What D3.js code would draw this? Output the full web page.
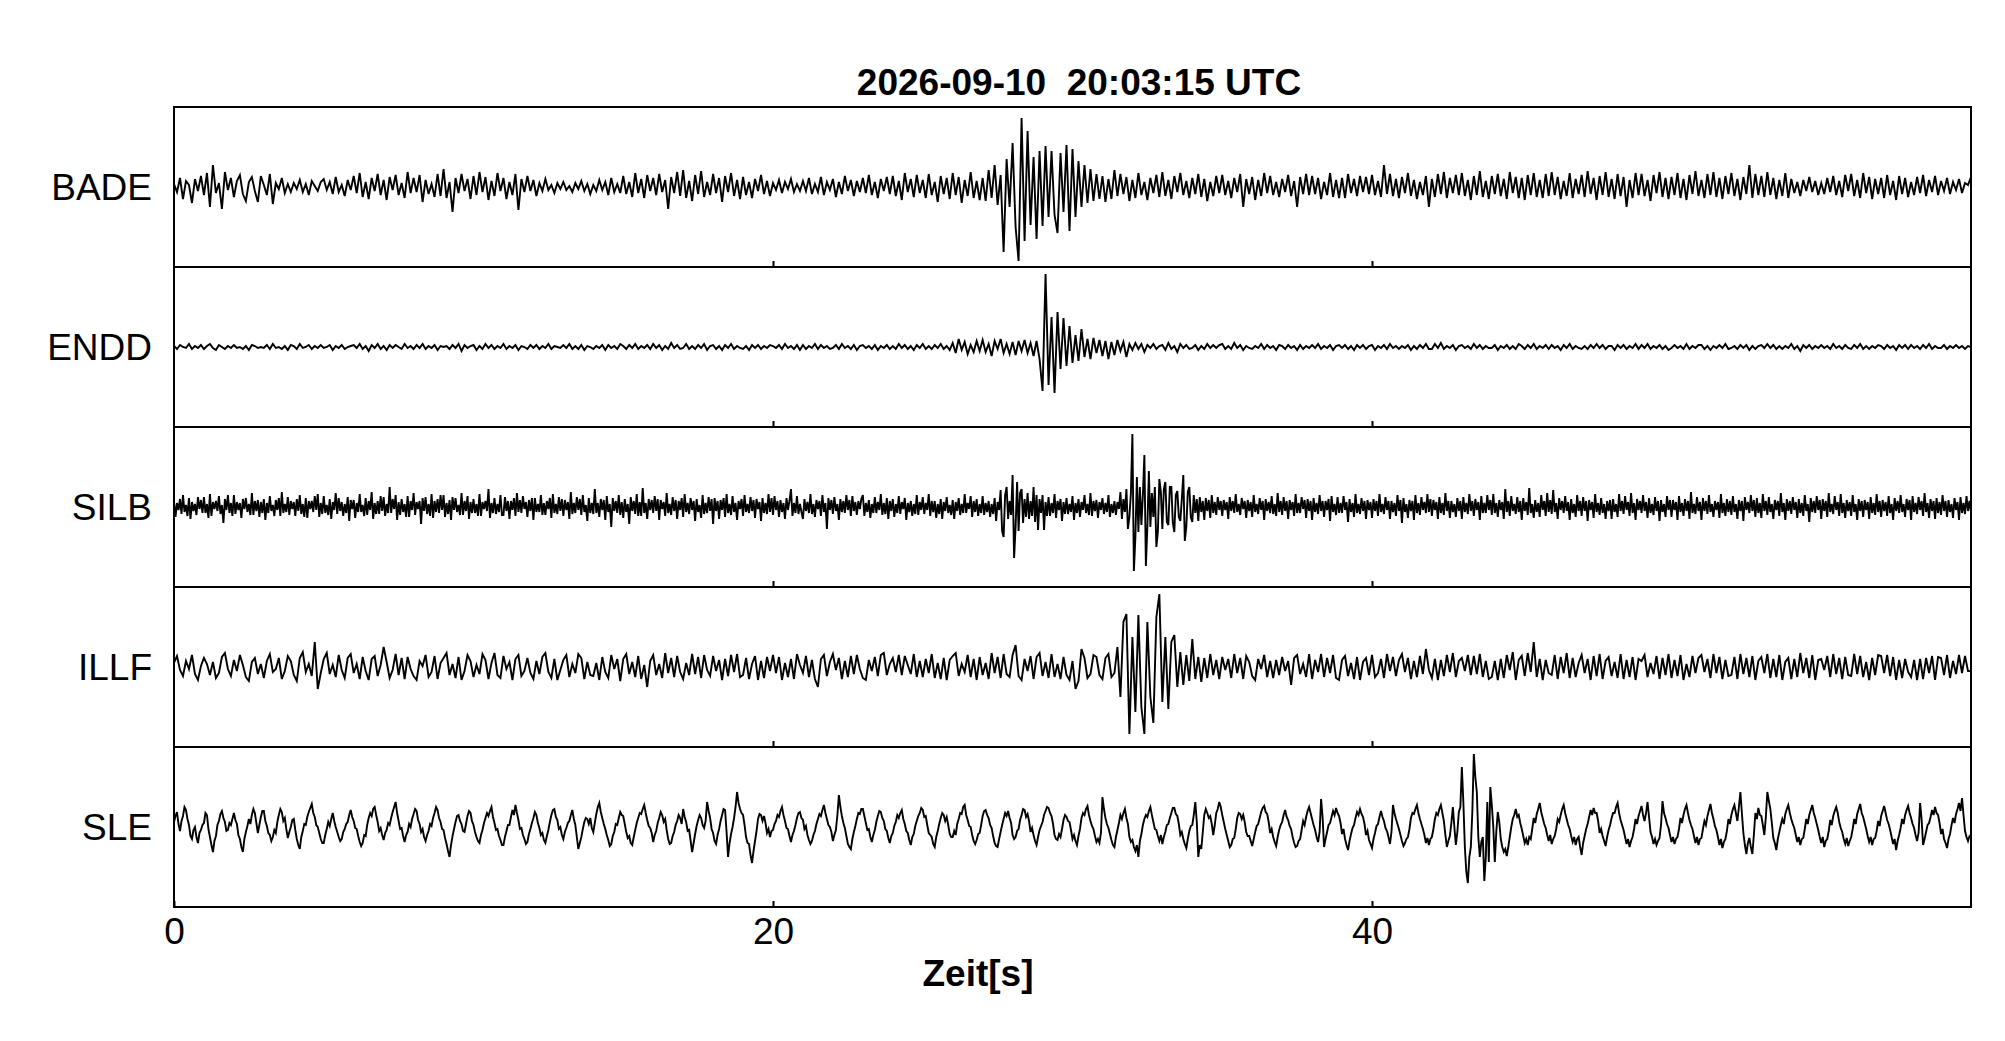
<!DOCTYPE html>
<html><head><meta charset="utf-8">
<script src="https://cdn.jsdelivr.net/npm/d3@7"></script>
<style>
body{margin:0;background:#fff}
svg{display:block}
text{font-family:"Liberation Sans",Arial,Helvetica,sans-serif;fill:#000}
</style></head>
<body><svg id="chart" width="2005" height="1041"></svg>
<script>
// ---------- data ----------
const title = "2026-09-10  20:03:15 UTC";
const xLabel = "Zeit[s]";
const stations = ["BADE","ENDD","SILB","ILLF","SLE"];
const timeDomain = [0, 60];
const xTickValues = [0, 20, 40];
const ampDomain = [-80, 80];          // normalised amplitude range of every trace

// one row = one second of samples (evenly spaced inside the second); last row = t 60 s
const BADE = [
[3,-5,9,-12,6,2,-16,8,-4,11],[-8,14,-20,22,-6,4,-22,15,-3,9],[-10,6,12,-7,-14,5,10,-4,-15,11],[2,-8,13,-17,4,-2,9,-6,3,-5],
[4,-2,7,-5,3,-8,6,1,-4,5],[8,-3,5,-7,10,-5,2,-9,7,-3],[11,-6,14,-10,5,-12,9,-4,13,-8],[7,-13,10,-3,12,-8,4,-11,15,-6],
[9,-5,12,-15,7,-7,3,-10,13,-9],[18,-11,5,-25,9,-6,13,-4,8,-12],[11,-8,15,-5,10,-13,6,-9,14,-4],[9,-12,5,-8,13,-23,8,-5,11,-4],
[7,-9,4,-4,8,-3,2,-6,4,-2],[5,-3,1,-5,4,-2,6,-4,3,-7],[2,-4,7,-3,5,-8,9,-5,3,-6],[11,-7,5,-10,14,-6,8,-11,12,-4],
[9,-8,13,-5,7,-22,10,-6,15,-9],[17,-11,6,-14,12,-7,16,-10,5,-8],[13,-6,9,-15,11,-5,14,-9,7,-12],[10,-8,5,-11,8,-4,12,-7,6,-9],
[4,-3,7,-6,5,-2,8,-5,3,-4],[6,-4,9,-7,3,-5,10,-8,5,-3],[8,-10,5,-7,11,-4,7,-9,6,-5],[9,-6,12,-8,5,-11,8,-4,10,-7],
[11,-9,6,-13,14,-5,8,-10,12,-6],[7,-11,13,-8,5,-15,11,-7,9,-12],[14,-8,10,-16,7,-9,15,-11,6,-13],[9,-14,17,-11,22,-18,12,-65,28,-20],
[44,-40,-74,69,-54,56,-38,30,-52,36],[-39,41,-30,36,-28,-46,34,-25,42,-44],[38,-30,26,-20,22,-16,18,-14,13,-12],[11,-15,8,-12,17,-9,13,-7,10,-14],
[7,-11,14,-8,5,-13,9,-6,12,-10],[15,-9,7,-12,11,-5,14,-8,6,-11],[9,-7,13,-10,8,-14,5,-9,11,-6],[12,-8,6,-11,9,-5,13,-20,8,-7],
[10,-13,7,-9,14,-6,11,-8,5,-10],[8,-5,12,-9,6,-20,10,-7,13,-8],[11,-7,9,-12,5,-8,14,-10,7,-11],[9,-11,13,-6,8,-9,11,-5,10,-7],
[12,-8,6,-10,22,-7,13,-9,8,-11],[10,-6,14,-9,7,-12,5,-8,11,-20],[8,-10,13,-7,15,-11,9,-6,12,-8],[14,-9,7,-13,11,-8,16,-10,6,-12],
[11,-7,13,-9,8,-12,15,-6,10,-11],[9,-13,12,-8,14,-10,7,-11,13,-9],[15,-8,10,-12,6,-9,14,-11,8,-7],[12,-10,16,-7,9,-13,11,-8,15,-10],
[8,-12,13,-9,10,-20,7,-11,14,-8],[13,-9,7,-14,12,-6,15,-10,9,-12],[10,-8,14,-11,8,-13,12,-7,16,-9],[7,-11,13,-8,15,-10,9,-12,11,-7],
[14,-9,8,-13,10,-7,22,-11,13,-8],[11,-10,15,-8,9,-12,7,-9,14,-11],[8,-6,5,-9,7,-4,10,-5,6,-8],[4,-7,9,-5,11,-8,6,-10,12,-4],
[13,-9,7,-11,14,-6,10,-12,8,-7],[9,-11,12,-8,6,-13,11,-7,9,-10],[5,-8,10,-6,12,-9,7,-5,11,-8],[6,-4,9,-7,5,-3,8,-6,4,2],
[10]];

const ENDD = [
[1,-2,2,0,-1,3,-2,1,-1,2],[-2,1,3,-1,-3,2,0,-2,1,-1],[2,-1,0,-2,1,-3,2,1,-1,0],[-1,2,-2,3,-1,0,-2,1,-3,2],
[1,-2,3,-1,0,2,-2,1,-1,2],[-1,0,2,-3,1,-1,2,-2,0,1],[2,-1,3,-2,1,-4,2,-1,3,-2],[1,-3,2,-1,2,0,-2,3,-1,1],
[-2,2,-1,3,-2,1,-1,2,-3,1],[0,1,-2,2,-1,3,-4,2,-1,1],[2,-3,1,-2,3,-1,2,-2,1,-1],[3,-2,1,-1,2,-3,1,0,-2,2],
[-1,2,-2,1,-1,3,-2,1,0,-1],[2,-1,3,-2,1,-2,2,-3,1,0],[-2,1,-1,2,-3,2,-1,1,-2,3],[1,-2,2,-1,3,-2,1,-1,2,-2],
[3,-1,2,-3,1,-2,4,-1,2,-2],[-1,3,-2,1,-2,2,-1,3,-3,1],[2,-2,1,-3,2,-1,3,-2,1,-1],[-2,1,-3,2,-1,2,-2,1,-1,2],
[1,-1,2,-2,3,-1,1,-2,2,-3],[2,-2,1,-1,3,-2,2,-1,1,-2],[-1,2,-2,3,-1,1,-2,2,-3,1],[2,-1,1,-2,2,-3,1,-1,2,-2],
[1,-2,3,-1,2,-2,1,-3,2,-1],[3,-2,1,-2,2,-1,3,-2,1,-3],[4,-6,8,-3,5,-7,2,-5,6,-4],[7,-5,3,-9,6,-2,8,-6,3,-7],
[5,-8,6,-4,7,-6,4,-9,6,-12],[-44,73,-38,30,-46,35,-22,29,-19,21],[-16,12,-14,18,-10,8,-12,9,-6,7],[-9,6,-12,5,-8,7,-4,5,-10,3],
[-3,4,-2,3,-5,2,-1,3,-2,1],[2,-3,4,-2,1,-5,3,-1,2,-2],[-1,2,-3,1,-2,3,-1,2,-1,2],[3,-2,1,-2,4,-1,2,-3,1,-1],
[-2,1,-1,3,-2,2,-1,1,-3,2],[1,-2,2,-1,1,-3,2,-2,1,-1],[2,-1,3,-2,1,-1,2,-3,1,2],[-1,2,-2,1,-3,2,-1,2,-2,1],
[2,-3,1,-1,2,-2,3,-1,1,-2],[1,-1,2,-3,1,-2,2,-1,3,-2],[-2,3,-1,4,-2,1,-1,2,-3,1],[2,-1,1,-2,3,-1,2,-2,1,-1],
[-1,2,-3,1,-1,2,-2,1,-2,3],[1,-2,2,-1,3,-2,1,-1,2,-2],[2,-1,1,-3,2,-1,3,-2,1,-1],[-2,1,-2,2,-1,3,-1,2,-2,1],
[1,-3,2,-1,2,-2,1,-1,3,-2],[2,-1,3,-2,1,-1,2,-2,1,-3],[-1,2,-1,1,-2,3,-2,1,-1,2],[2,-2,1,-3,1,-1,2,-1,3,-2],
[-1,1,-2,2,-1,2,-3,1,-2,1],[2,-1,3,-1,2,-2,1,-2,1,-1],[3,-2,1,-4,2,-1,2,-2,1,-1],[2,-1,1,-2,3,-1,1,-2,2,-1],
[-2,2,-1,3,-2,1,-2,1,-1,2],[1,-2,2,-1,1,-3,2,-1,2,-2],[2,-1,1,-2,2,-1,3,-2,1,-1],[-1,2,-2,1,-1,2,-1,1,-2,1],
[0]];

const SILB = [
[6,-10,4,-3,8,-7,12,-5,2,-9,9,-12,5,-4,3,-8,10,-2,7,-6],[10,-6,3,-11,13,-9,5,-2,6,-4,11,-7,2,-16,8,-3,12,-6,4,-9],
[12,-7,5,-3,4,-11,8,-2,9,-5,3,-8,14,-8,6,-4,7,-10,5,-6],[8,-13,4,-6,11,-4,2,-9,7,-3,9,-9,15,-6,3,-5,10,-8,6,-2],
[5,-9,8,-4,12,-7,3,-10,9,-11,6,-2,6,-5,11,-3,13,-10,4,-7],[11,-6,2,-8,8,-12,5,-3,14,-7,9,-4,5,-9,3,-6,10,-14,7,-2],
[7,-11,4,-5,13,-5,2,-9,9,-8,6,-3,15,-12,4,-7,6,-7,11,-4],[10,-9,3,-6,20,-6,8,-2,12,-13,5,-8,8,-5,3,-10,11,-10,6,-3],
[14,-8,5,-2,6,-17,9,-4,10,-7,3,-9,13,-11,6,-5,8,-6,12,-3],[12,-10,4,-7,7,-13,10,-3,9,-5,2,-8,14,-8,6,-4,11,-12,5,-6],
[8,-6,3,-9,13,-9,5,-2,6,-4,18,-11,4,-6,9,-7,3,-5,12,-8],[-8,10,-4,6,-12,6,-3,9,-9,14,-5,7,-6,11,-2,5,-10,7,-4,9],
[-13,9,-5,3,-5,12,-8,4,-8,6,-2,9,-11,13,-6,3,-7,10,-4,8],[-9,7,-3,5,-12,15,-7,4,-6,10,-3,8,-8,12,-5,2,-14,9,-6,4],
[-7,18,-6,4,-10,8,-3,7,-13,11,-5,3,-20,9,-4,6,-6,12,-8,5],[-11,8,-5,3,-17,10,-4,6,-7,13,-9,5,-9,19,-6,4,-12,8,-3,7],
[-6,11,-4,8,-13,7,-2,5,-9,14,-6,3,-8,10,-4,7,-12,6,-3,9],[-10,13,-5,4,-7,9,-3,6,-14,8,-5,2,-11,12,-7,4,-6,10,-4,8],
[-17,9,-4,6,-12,7,-3,9,-10,13,-6,3,-8,11,-5,4,-13,6,-2,8],[-9,12,-5,3,-6,10,-4,7,-11,8,-2,5,-14,9,-6,4,-7,13,-5,9],
[-8,11,-3,6,-10,7,-5,4,-12,9,-3,6,18,-9,4,-6,11,-7,3,-5],[-12,8,-4,5,-6,13,-7,3,-10,7,-2,6,-9,12,-5,4,-22,9,-3,7],
[-7,10,-4,3,-13,8,-5,6,-6,12,-3,7,-9,11,-4,5,-8,6,-2,8],[12,-9,4,-5,7,-11,3,-6,10,-6,5,-3,13,-8,4,-7,9,-12,6,-4],
[8,-10,3,-6,11,-7,5,-2,9,-13,4,-5,6,-9,3,-7,12,-8,5,-3],[10,-7,4,-3,13,-9,6,-5,6,-11,3,-7,8,-12,5,-4,10,-6,2,-8],
[7,-12,5,-4,9,-8,3,-6,13,-6,4,-2,11,-10,6,-5,8,-9,3,-6],[11,-8,4,-5,6,-10,3,-7,9,-14,5,-3,17,-24,-30,12,20,-12,6,-8],
[32,-51,-20,25,-24,14,18,-16,8,-10,14,-12,6,-9,20,-15,12,-23,8,-6],[12,-23,5,-9,10,-9,4,-6,13,-11,6,-3,8,-14,5,-7,9,-7,3,-5],
[11,-13,4,-6,8,-10,5,-3,12,-6,3,-8,14,-9,6,-4,7,-11,5,-3],[9,-7,4,-5,12,-10,3,-6,6,-8,5,-2,15,-12,8,-5,18,-22,-10,14],
[73,-64,-30,30,-25,20,-18,12,52,-59,-20,36,-20,14,-10,20,-40,-25,28,15],[-22,18,25,-15,-18,20,20,-16,-25,12,16,-10,-14,8,32,-34,-20,15,20,-10],
[-15,12,-6,8,-14,10,-5,6,-13,9,-4,7,-11,12,-6,5,-8,10,-3,6],[-9,7,-3,5,-12,10,-4,6,-6,13,-5,3,-8,9,-2,6,-11,7,-4,5],
[-10,12,-5,3,-7,9,-3,6,-13,8,-4,5,-6,11,-7,3,-9,14,-5,6],[-8,10,-4,6,-12,7,-3,5,-9,13,-6,4,-6,10,-2,7,-11,8,-4,6],
[-13,9,-5,4,-7,12,-4,6,-10,6,-3,8,-14,11,-5,3,-8,10,-6,4],[-6,11,-3,5,-15,8,-5,4,-10,13,-6,3,-7,9,-4,6,-12,7,-3,5],
[-11,8,-4,6,-9,13,-5,3,-7,10,-3,6,-12,6,-5,4,-9,12,-4,7],[-16,9,-5,3,-11,7,-4,6,-13,12,-6,4,-8,10,-3,5,-6,13,-5,8],
[-9,7,-3,5,-12,10,-6,4,-8,14,-4,6,-11,6,-5,3,-10,9,-4,6],[-12,10,-5,4,-7,13,-4,6,-9,8,-3,5,-13,11,-6,4,-6,12,-3,7],
[-8,13,-6,4,-10,7,-3,5,-12,18,-5,6,-9,11,-4,3,-7,10,-5,6],[-13,9,-4,5,-8,19,-6,3,-11,7,-5,4,-10,12,-3,6,-9,14,-5,7],
[-7,17,-5,4,-12,9,-3,6,-6,11,-4,5,-13,8,-6,3,-10,12,-4,6],[-9,10,-4,6,-14,7,-3,5,-11,13,-5,4,-8,9,-6,3,-12,6,-4,7],
[-12,8,-5,3,-10,13,-4,6,-7,11,-3,5,-9,14,-6,4,-13,8,-3,6],[-6,12,-4,5,-11,9,-6,3,-8,10,-4,6,-14,7,-5,3,-10,11,-3,7],
[-10,7,-3,5,-13,11,-5,4,-9,8,-4,6,-12,15,-6,3,-7,10,-4,5],[-13,9,-4,6,-7,12,-5,3,-10,6,-3,5,-11,13,-6,4,-9,8,-5,6],
[-8,11,-5,3,-12,7,-4,6,-14,10,-3,5,-6,12,-4,7,-10,9,-6,4],[-11,13,-4,6,-8,10,-5,3,-12,7,-3,6,-9,14,-5,4,-13,8,-4,6],
[-7,10,-3,5,-11,8,-6,4,-9,12,-4,3,-15,9,-5,6,-6,11,-3,7],[-12,8,-4,6,-10,14,-5,3,-7,11,-3,5,-9,13,-6,4,-11,7,-4,5],
[-9,12,-5,3,-13,8,-4,6,-10,7,-3,5,-12,10,-6,4,-8,13,-5,6],[-10,7,-4,5,-9,11,-6,3,-13,9,-4,6,-6,12,-5,3,-10,8,-3,7],
[-13,11,-5,4,-7,10,-3,6,-9,14,-5,4,-11,8,-4,6,-12,9,-6,5],[-8,12,-4,6,-10,7,-5,3,-11,9,-3,5,-13,10,-6,4,-7,11,-4,6],
[-5]];

const ILLF = [
[4,11,-3,-9,6,-2,12,-7,-13,1],[9,3,-8,5,-11,-6,10,14,-2,-9],[7,-4,12,2,-10,-14,5,9,-7,3],[-11,6,13,-5,-2,9,-12,-4,11,6],
[-8,-14,9,15,-5,3,-9,25,-22,-6],[8,14,-7,2,-10,12,-3,-11,9,13],[-6,3,-12,10,-4,-13,8,11,-9,2],[20,5,-11,-3,13,-8,9,-12,10,-2],
[-9,-13,6,1,12,-10,-5,11,-12,4],[9,14,-8,3,-11,10,-13,-4,12,6],[-10,2,-7,13,7,-12,4,14,-8,-11],[11,-2,5,-13,8,12,-9,-4,9,-6],
[-12,6,-7,10,14,-5,-11,8,-13,-3],[7,12,-10,3,-6,13,9,-12,5,-8],[-9,4,-13,10,-5,-11,12,-2,8,-14],[8,13,-7,5,-10,11,-12,2,-20,6],
[12,-8,3,-11,14,-6,9,-10,11,-5],[-12,4,-8,13,-7,10,-11,12,-3,-9],[11,-4,7,-13,8,-9,12,-5,13,-10],[-8,9,-12,3,11,-13,6,-11,10,-4],
[12,-6,10,-13,4,-10,8,-12,13,2],[-6,11,-10,7,-12,-20,8,12,-9,5],[13,-3,9,-12,6,-10,11,-7,12,-2],[-11,-13,7,-4,10,-9,12,14,-8,3],
[9,-5,12,-8,11,2,-7,13,-10,6],[-10,8,-6,13,-11,4,-12,9,-13,7],[11,14,-9,3,-5,12,-10,8,-13,10],[-8,4,-12,14,-6,10,-11,13,-7,-10],
[12,22,-9,-13,8,-4,11,-12,10,14],[-9,5,-11,13,-10,3,-12,10,-8,-13],[6,-22,-14,18,9,-11,-7,12,10,-8],[-12,9,13,-10,-6,20,-30,45,53,-67],
[30,-45,52,-40,-67,45,-30,-56,50,73],[-35,30,-42,25,32,-20,15,-18,12,-14],[28,-12,10,-15,9,-11,13,-8,7,-12],[10,-3,8,-11,13,-6,9,-12,11,5],
[-9,-13,8,-2,12,-10,6,-11,7,-8],[10,-4,6,-18,9,12,-7,3,-10,13],[-12,7,-5,13,-10,9,-6,12,-11,-13],[7,11,-9,4,-12,10,-13,5,9,-8],
[12,-10,-6,8,-11,13,-4,10,-9,7],[13,-5,9,-12,6,-10,11,-7,18,-3],[-11,8,-13,7,-9,12,-5,14,-10,6],[9,-4,12,-8,11,-7,13,-10,6,-12],
[-10,6,-13,8,-11,12,-3,15,-13,7],[11,-9,14,-5,25,-10,8,-13,7,-6],[-8,12,-12,10,-6,14,-11,9,-10,4],[12,-6,8,-13,11,-9,13,-12,6,10],
[-9,5,-11,13,-12,7,-10,10,-13,8],[6,12,-10,4,-7,11,-12,9,-8,13],[-11,7,-9,12,-13,3,-10,11,-6,9],[12,-5,8,-11,13,-6,10,-12,7,-9],
[-8,10,-12,13,-7,9,-10,11,-13,6],[10,-6,13,-11,8,-10,12,-13,5,9],[-12,8,-10,14,-6,9,-11,12,-13,7],[8,-3,11,-10,13,-7,9,-12,10,-8],
[-9,13,-7,11,-10,5,-13,9,-8,12],[11,-6,12,-9,10,-13,7,-11,8,-5],[-10,7,-13,8,-12,9,-6,11,-13,10],[9,-8,12,-11,6,-7,12,-6,11,-4],
[-4]];

const SLE = [
[5,11,15,3,-4,6,11,20,17,8,2,-9,-12,-3,0,-10,-16,-6,-3,2],[4,14,12,-2,-10,-18,-25,-14,-9,2,6,13,16,9,5,-4,-3,4,2,8],
[14,7,3,-8,-12,-20,-25,-12,-5,1,8,3,12,18,14,4,-6,2,10,16],[16,6,1,-6,-8,-14,-10,-3,-6,5,12,18,15,6,9,-2,-11,-5,0,7],
[8,-3,-12,-18,-22,-10,-4,3,2,10,15,19,23,14,10,2,0,-6,-12,-16],[-16,-8,-2,5,1,8,14,6,0,-5,-10,-14,-12,-5,-2,3,5,12,17,10],
[6,-1,-2,-9,-15,-19,-16,-8,-9,2,9,14,11,18,20,12,5,-4,-1,-8],[-13,-6,-3,4,2,9,15,20,25,14,6,-2,-1,-9,-15,-8,-5,3,0,8],
[13,18,16,7,3,-5,-2,-10,-14,-8,-4,3,1,9,14,20,17,9,5,-2],[-3,-11,-17,-24,-30,-18,-9,-2,5,11,12,6,3,-4,-5,3,11,16,14,6],
[2,-5,-10,-14,-16,-8,-3,4,9,14,11,16,20,10,4,-3,-2,-9,-13,-18],[-18,-10,-4,2,2,10,17,12,22,14,7,-2,-1,-8,-12,-17,-15,-7,-2,4],
[9,15,12,4,-1,-8,-6,-13,-16,-9,-3,5,12,17,18,10,7,-2,0,-8],[-12,-5,-1,4,6,12,17,8,2,-10,-22,-16,-10,-2,5,9,8,3,9,-1],
[-5,4,13,20,24,15,9,3,-2,-8,-13,-19,-17,-9,-5,3,2,9,15,12],[11,3,-5,-11,-9,-16,-18,-10,-3,4,9,14,13,18,22,14,7,1,-1,-6],
[-15,-8,-4,4,9,15,12,5,8,-3,-12,-17,-16,-9,-5,2,6,12,9,3],[18,10,5,-4,-3,-14,-25,-16,-7,1,7,12,9,2,-1,6,25,16,9,-2],
[-6,-14,-17,-8,-2,6,12,18,17,-5,-30,-16,-7,0,9,20,35,24,18,14],[12,2,-10,-16,-17,-28,-36,-24,-14,-4,8,13,12,6,11,4,-6,-2,-10,-4],
[-3,3,6,12,10,16,20,12,6,-1,-2,-9,-15,-8,-4,2,9,14,15,9],[7,-2,1,-8,-13,-17,-14,-8,-4,3,8,13,11,17,22,14,8,2,0,-5],
[-14,-8,-3,12,32,20,11,4,-1,-9,-17,-20,-22,-12,-5,1,8,14,13,18],[18,11,4,-3,-2,-10,-15,-8,-3,5,11,16,15,9,6,-2,-4,-11,-16,-9],
[-6,1,5,12,9,14,17,8,3,-4,-6,-13,-18,-10,-7,1,6,11,14,19],[17,10,11,2,-6,-8,-10,-17,-20,-10,-4,3,9,14,12,6,10,2,-7,-10],
[-10,-4,-8,3,8,14,13,20,22,12,7,1,0,-8,-14,-17,-13,-7,-6,2],[11,16,17,12,9,2,-1,-9,-16,-19,-20,-12,-5,2,8,14,11,16,9,4],
[-8,-12,-10,-4,-2,7,12,18,17,10,13,6,-5,-1,-8,-14,-18,-10,-3,1],[5,12,16,20,19,14,11,3,-8,-12,-13,-7,-10,-2,7,12,10,6,5,-3],
[-12,-8,-14,-18,-9,-2,9,14,12,18,21,12,6,1,-2,-9,-15,-12,-16,-6],[30,18,9,3,-1,-7,-13,-18,-20,-10,-3,4,12,8,14,18,9,3,-10,-15],
[-13,-20,-24,-18,-30,-14,-7,2,8,12,10,16,20,12,5,-2,-3,-9,-14,-8],[-17,-10,-5,2,3,9,14,19,19,13,11,3,-8,-5,-12,-17,-21,-12,-4,1],
[2,12,25,5,-30,-18,-22,-5,12,18,14,9,11,3,-8,2,14,18,25,20],[12,5,-2,-8,-14,-20,-18,-12,-11,-2,9,14,13,8,12,5,-5,-9,-9,-14],
[-19,-12,-5,1,3,9,15,19,21,15,13,5,-6,-2,-10,-15,-19,-10,-3,2],[5,12,17,10,7,1,-2,-10,-16,-20,-19,-14,-12,-3,6,2,10,16,20,14],
[8,2,-3,-10,-15,-5,28,10,-20,-12,-5,2,4,10,16,12,19,14,11,4],[-7,-2,-12,-18,-23,-14,-7,-1,2,9,15,12,18,13,10,3,-8,-4,-13,-17],
[-21,-12,-6,1,3,10,16,10,6,-1,-4,-10,-17,-5,22,14,8,3,-2,-8],[-14,-19,-16,-12,-10,-2,9,14,13,18,22,14,8,3,-2,-8,-16,-11,-18,-12],
[-10,-2,8,14,12,18,22,14,6,-8,-20,-14,-9,4,20,0,-18,-5,15,20],[60,25,-20,-45,-56,-30,-20,15,73,50,35,-10,-30,-15,-10,-54,-30,25,-35,40],
[22,0,-35,-5,15,5,-12,-20,-25,-22,-29,-20,-10,0,8,12,18,10,12,4],[-2,-9,-16,-12,-18,-10,-12,-2,9,4,13,18,24,15,9,3,-1,-8,-14,-8],
[-17,-12,-9,-2,8,5,12,18,22,14,8,2,-2,-9,-15,-10,-18,-12,-10,-20],[-28,-16,-9,-2,3,10,17,12,19,14,14,6,-6,-2,-9,-14,-19,-10,-3,2],
[9,14,14,20,24,14,7,2,-3,-10,-17,-12,-20,-14,-10,-2,8,3,11,16],[21,12,6,14,25,10,-5,-10,-17,-12,-18,-14,-11,2,26,14,9,3,-1,-8],
[-15,-10,-17,-12,-10,-2,9,4,12,18,22,14,7,2,-2,-9,-16,-10,-18,-12],[-11,-2,6,2,11,17,23,14,8,1,-3,-10,-18,-12,-21,-15,-12,-4,8,3],
[12,18,22,14,6,20,35,14,-6,-18,-27,-16,-11,-20,-27,-8,14,8,19,12],[11,2,-8,10,35,26,18,4,-11,-16,-23,-12,-5,2,8,3,13,18,22,14],
[8,3,-1,-8,-15,-10,-18,-12,-11,-2,8,3,12,17,22,14,9,3,-3,-10],[-16,-10,-20,-14,-12,-4,7,2,11,16,20,14,5,-1,-5,-12,-17,-11,-19,-14],
[-10,-2,8,3,13,18,23,14,10,4,-2,-9,-15,-10,-18,-12,-11,-4,6,1],[11,16,21,14,7,3,-3,-10,-17,-12,-23,-14,-8,-1,8,3,12,17,21,14],
[9,3,-1,-8,-14,-6,24,8,-18,-12,-5,2,4,10,17,12,20,14,12,4],[-7,-2,-12,-16,-21,-12,-7,2,9,4,13,18,24,16,29,12,-4,-10,-14,-9],
[-8]];

const traceRows = { BADE, ENDD, SILB, ILLF, SLE };
// each sample gets its time from its second (row) and its place inside that row
const traces = {};
for (const s of stations) {
  traces[s] = traceRows[s].flatMap((row, r) => row.map((v, j) => ({ t: r + j / row.length, v })));
}

// ---------- layout ----------
const W = 2005, H = 1041;
const margin = { top: 107, right: 34, bottom: 134, left: 174 };
const FONT = '"Liberation Sans",Arial,Helvetica,sans-serif';
const svg = d3.select("#chart");

const x = d3.scaleLinear().domain(timeDomain).range([margin.left, W - margin.right]);
const band = d3.scaleBand().domain(stations).range([margin.top, H - margin.bottom]).paddingInner(0).paddingOuter(0);
const ph = band.bandwidth();

const defs = svg.append("defs");

stations.forEach((s, k) => {
  const top = band(s);
  const y = d3.scaleLinear().domain(ampDomain).range([top + ph, top]);
  const g = svg.append("g").attr("class", "panel");

  defs.append("clipPath").attr("id", "clip" + k)
    .append("rect").attr("x", x(timeDomain[0])).attr("y", top)
    .attr("width", x(timeDomain[1]) - x(timeDomain[0])).attr("height", ph);

  const line = d3.line().x(d => x(d.t)).y(d => y(d.v));

  g.append("path")
    .datum(traces[s])
    .attr("clip-path", `url(#clip${k})`)
    .attr("fill", "none")
    .attr("stroke", "#000")
    .attr("stroke-width", 1.9)
    .attr("stroke-linejoin", "miter")
    .attr("d", line);

  // x ticks (inward, at bottom of every panel)
  const isLast = k === stations.length - 1;
  const axis = d3.axisBottom(x)
    .tickValues(isLast ? xTickValues : xTickValues.filter(v => v !== 0))
    .tickSizeInner(-6).tickSizeOuter(0).tickPadding(11)
    .tickFormat(isLast ? d3.format("d") : () => "");
  const ax = g.append("g").attr("transform", `translate(0,${top + ph})`).call(axis);
  ax.select(".domain").remove();
  ax.selectAll(".tick line").attr("stroke", "#000").attr("stroke-width", 2);
  ax.selectAll(".tick text").attr("font-size", 37).attr("fill", "#000").attr("font-family", FONT);

  // panel frame
  g.append("rect")
    .attr("x", x(timeDomain[0])).attr("y", top)
    .attr("width", x(timeDomain[1]) - x(timeDomain[0])).attr("height", ph)
    .attr("fill", "none").attr("stroke", "#000").attr("stroke-width", 2);

  // station label
  g.append("text")
    .attr("x", margin.left - 22)
    .attr("y", top + ph / 2)
    .attr("text-anchor", "end")
    .attr("dominant-baseline", "central")
    .attr("font-size", 37)
    .text(s);
});

svg.append("text")
  .attr("x", 1079).attr("y", 95)
  .attr("text-anchor", "middle")
  .attr("font-size", 37).attr("font-weight", "bold")
  .style("white-space", "pre")
  .text(title);

svg.append("text")
  .attr("x", 978).attr("y", 986)
  .attr("text-anchor", "middle")
  .attr("font-size", 37).attr("font-weight", "bold")
  .text(xLabel);
</script></body></html>
